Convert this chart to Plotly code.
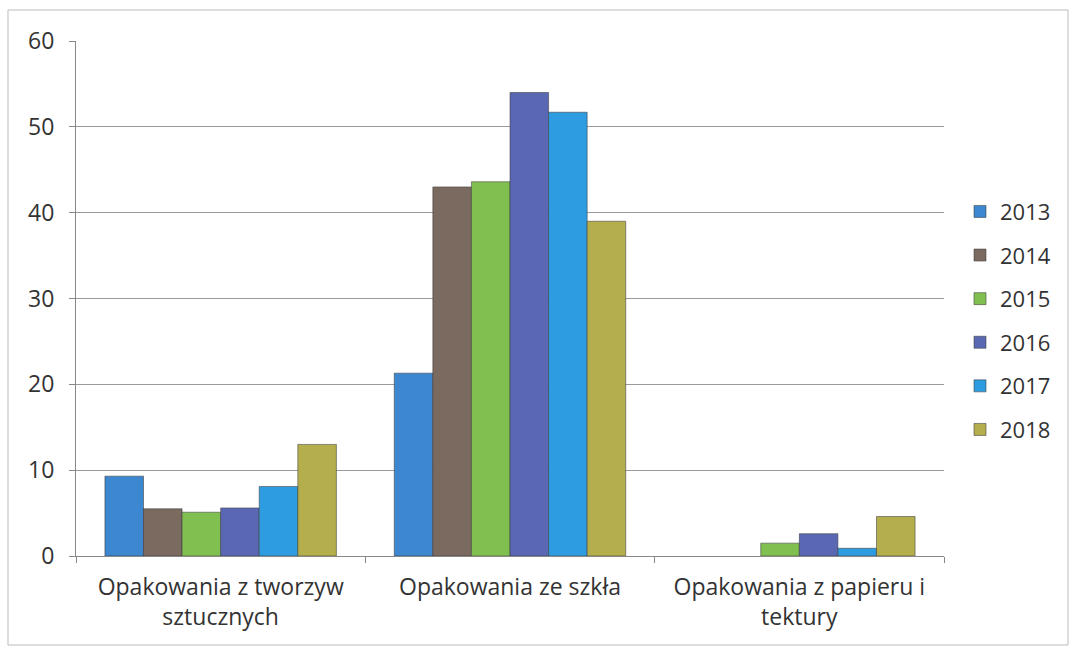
import plotly.graph_objects as go

categories = ["Opakowania z tworzyw<br>sztucznych", "Opakowania ze szkła", "Opakowania z papieru i<br>tektury"]
years = ["2013", "2014", "2015", "2016", "2017", "2018"]
v2013 = [9.3, 21.3, 0]
v2014 = [5.5, 43.0, 0]
v2015 = [5.1, 43.6, 1.5]
v2016 = [5.6, 54.0, 2.6]
v2017 = [8.1, 51.7, 0.9]
v2018 = [13.0, 39.0, 4.6]
series = [v2013, v2014, v2015, v2016, v2017, v2018]
colors = ["#3d86d0", "#7a6a60", "#80c050", "#5a68b4", "#2e9ce0", "#b4ae4c"]
y_ticks = [0, 10, 20, 30, 40, 50, 60]

fig = go.Figure()
for yr, vals, col in zip(years, series, colors):
    fig.add_trace(go.Bar(
        name=yr, x=categories, y=vals, legendgroup=yr,
        marker=dict(color=col, line=dict(color="rgba(60,60,60,0.55)",
                                         width=[0 if v == 0 else 1 for v in vals])),
    ))

font_fam = "'Open Sans', sans-serif"
W, H = 1073, 647
L, R, T, B = 76, 129, 41, 91
pw, ph = W - L - R, H - T - B
fig.update_layout(
    width=W, height=H,
    margin=dict(l=L, r=R, t=T, b=B, autoexpand=False),
    paper_bgcolor="white", plot_bgcolor="white",
    barmode="group", bargap=0.2, bargroupgap=0,
    font=dict(family=font_fam, size=23, color="#333333"),
    showlegend=True,
    legend=dict(x=(960 - L) / pw, xanchor="left", y=0.457, yanchor="middle",
                font=dict(size=22, color="#333333"), tracegroupgap=12,
                itemwidth=30, bgcolor="rgba(0,0,0,0)"),
    xaxis=dict(type="category", showline=True, linecolor="#888888", linewidth=1,
               ticks="outside", tickson="boundaries", ticklen=6, tickcolor="#888888",
               showgrid=False, tickfont=dict(size=23, color="#333333"),
               ticklabelstandoff=10),
    yaxis=dict(range=[0, 60], tickvals=y_ticks, showline=True, linecolor="#888888", linewidth=1,
               ticks="outside", ticklen=6, tickcolor="#888888",
               showgrid=True, gridcolor="#9a9a9a", gridwidth=1, zeroline=False,
               tickfont=dict(size=23, color="#333333"), ticklabelstandoff=10),
    shapes=[dict(type="rect", xref="paper", yref="paper",
                 x0=(8 - L) / pw, x1=(1068 - L) / pw,
                 y0=-(645 - (T + ph)) / ph, y1=(T + ph - 10) / ph,
                 line=dict(color="#bbbbbb", width=1), fillcolor="rgba(0,0,0,0)")],
)

fig.write_html("out.html", config={"displayModeBar": False},
               post_script="document.body.style.margin='0';document.body.style.overflow='hidden';")
